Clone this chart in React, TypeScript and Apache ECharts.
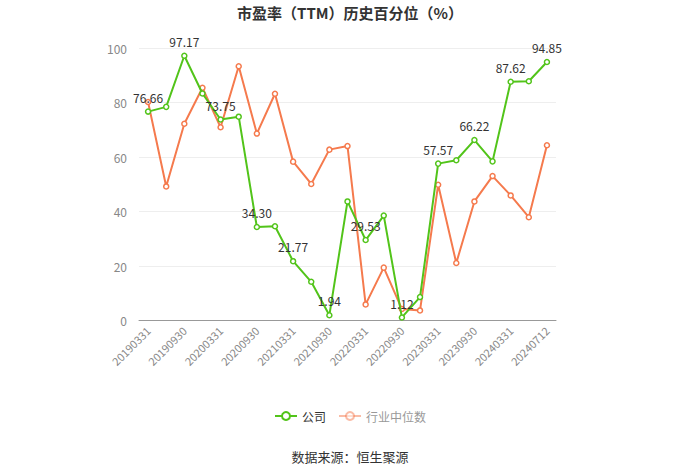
import React, { useEffect, useRef } from "react";
import * as echarts from "echarts";

const categories = [
  "20190331", "20190630", "20190930", "20191231",
  "20200331", "20200630", "20200930", "20201231",
  "20210331", "20210630", "20210930", "20211231",
  "20220331", "20220630", "20220930", "20221231",
  "20230331", "20230630", "20230930", "20231231",
  "20240331", "20240630", "20240712",
];

const companyValues = [
  76.66, 78.4, 97.17, 83.3, 73.75, 74.8, 34.3, 34.6, 21.77, 14.2, 1.94, 43.7,
  29.53, 38.5, 1.12, 8.6, 57.57, 58.8, 66.22, 58.4, 87.62, 87.8, 94.85,
];

const industryValues = [
  80.2, 49.2, 72.2, 85.4, 70.9, 93.3, 68.6, 83.2, 58.3, 50.1, 62.7, 64.0,
  5.9, 19.4, 4.2, 3.7, 49.8, 21.1, 43.7, 53.0, 45.9, 37.9, 64.3,
];

const yTicks = [0, 20, 40, 60, 80, 100];

const GREEN = "#52c41a";
const ORANGE = "#f57a4d";

export default function App() {
  const ref = useRef<HTMLDivElement>(null);
  useEffect(() => {
    document.body.style.margin = "0";
    if (!ref.current) return;
    const chart = echarts.init(ref.current, null, { renderer: "svg" });
    chart.setOption({
      animation: false,
      backgroundColor: "#fff",
      title: {
        text: "市盈率（TTM）历史百分位（%）",
        left: "center",
        top: 0,
        textStyle: { fontSize: 15, fontWeight: "bold", color: "#333", fontFamily: "Noto Sans CJK SC" },
      },
      grid: { left: 139, right: 144, top: 48, bottom: 153.5 },
      legend: {
        bottom: 47,
        left: "center",
        itemWidth: 22,
        itemHeight: 10,
        itemGap: 12,
        textStyle: { fontSize: 12, color: "#333", fontFamily: "Noto Sans CJK SC" },
        data: [
          { name: "公司" },
          {
            name: "行业中位数",
            textStyle: { color: "#999" },
            itemStyle: { opacity: 0.5 },
            lineStyle: { opacity: 0.5 },
          },
        ],
      },
      xAxis: {
        type: "category",
        data: categories,
        boundaryGap: true,
        axisLine: { lineStyle: { color: "#999" } },
        axisTick: { alignWithLabel: true, interval: 1, lineStyle: { color: "#999" } },
        axisLabel: {
          interval: 1,
          rotate: 45,
          fontSize: 11,
          color: "#888",
          fontFamily: "Noto Sans CJK SC",
        },
      },
      yAxis: {
        type: "value",
        min: yTicks[0],
        max: yTicks[yTicks.length - 1],
        interval: 20,
        axisLine: { show: false },
        axisTick: { show: false },
        axisLabel: { fontSize: 12, color: "#888", fontFamily: "Noto Sans CJK SC", margin: 12 },
        splitLine: { lineStyle: { color: "#eee" } },
      },
      series: [
        {
          name: "公司",
          type: "line",
          data: companyValues.map((v, i) => ({
            value: v,
            label: { show: i % 2 === 0 },
          })),
          symbol: "circle",
          symbolSize: 5,
          showAllSymbol: true,
          z: 3,
          itemStyle: { color: "#fff", borderColor: GREEN, borderWidth: 1.5 },
          lineStyle: { color: GREEN, width: 2 },
          label: {
            position: "top",
            distance: 5,
            fontSize: 12,
            color: "#333",
            fontFamily: "Noto Sans CJK SC",
            formatter: (p: any) => Number(p.value).toFixed(2),
          },
        },
        {
          name: "行业中位数",
          type: "line",
          data: industryValues,
          symbol: "circle",
          symbolSize: 5,
          showAllSymbol: true,
          z: 2,
          itemStyle: { color: "#fff", borderColor: ORANGE, borderWidth: 1.5 },
          lineStyle: { color: ORANGE, width: 2 },
        },
      ],
      color: [GREEN, ORANGE],
      graphic: [
        {
          type: "text",
          left: "center",
          top: 450,
          style: {
            text: "数据来源：恒生聚源",
            fontSize: 13,
            fill: "#333",
            fontFamily: "Noto Sans CJK SC",
          },
        },
      ],
    });
    return () => chart.dispose();
  }, []);
  return <div ref={ref} style={{ width: 700, height: 474 }} />;
}
